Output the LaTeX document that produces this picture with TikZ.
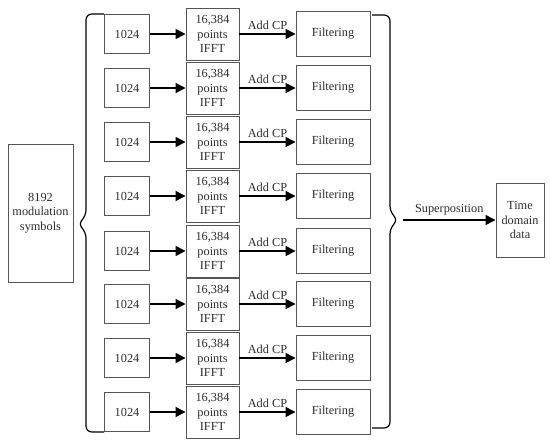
\documentclass[tikz,border=0pt]{standalone}
\usepackage{fontspec}
\setmainfont{Liberation Serif}
\usepackage{tikz}
\usetikzlibrary{arrows.meta,positioning,calc}
\definecolor{boxgray}{RGB}{85,85,85}
\definecolor{txtgray}{RGB}{45,45,45}

\begin{document}
\begin{tikzpicture}[x=0.03cm,y=-0.03cm,
  every node/.style={font=\fontsize{10.5}{12.5}\selectfont,text=txtgray,align=center},
  blk/.style={draw=boxgray,line width=0.8pt,inner sep=0pt},
  flow/.style={-{Triangle[length=3mm,width=3mm]},line width=1.2pt},
  brc/.style={line width=1pt,rounded corners=5pt}]
\useasboundingbox (0,0) rectangle (550,446);
\node[blk,minimum width=1.95cm,minimum height=4.14cm] (sym) at (40.5,213) {8192\\modulation\\symbols};
% one branch per 1024 symbols
\foreach \i/\y in {1/34,2/88,3/142,4/196,5/251,6/304,7/358,8/412}{
  \node[blk,minimum width=1.35cm,minimum height=1.17cm] (src\i) at (127,\y) {1024};
  \node[blk,minimum width=1.59cm,minimum height=1.56cm] (fft\i) at (212.5,\y) {16,384\\points\\IFFT};
  \node[blk,minimum width=2.22cm,minimum height=1.35cm] (flt\i) at (333,\y) {Filtering};
  \draw[flow] (src\i) -- (fft\i);
  \draw[flow] (fft\i) -- node[above] {Add CP} (flt\i);
}
\draw[brc] (104,14) -- (86,14) -- (86,216) -- (78,224) -- (86,232) -- (86,432) -- (104,432);
\draw[brc] (372,15) -- (390,15) -- (390,212) -- (398,220) -- (390,228) -- (390,428) -- (372,428);
\node[blk,minimum width=1.44cm,minimum height=2.22cm] (tdd) at (520,220) {Time\\domain\\data};
\coordinate (sp) at (403,220);
\draw[flow] (sp) -- node[above] {Superposition} (tdd);
\end{tikzpicture}
\end{document}
